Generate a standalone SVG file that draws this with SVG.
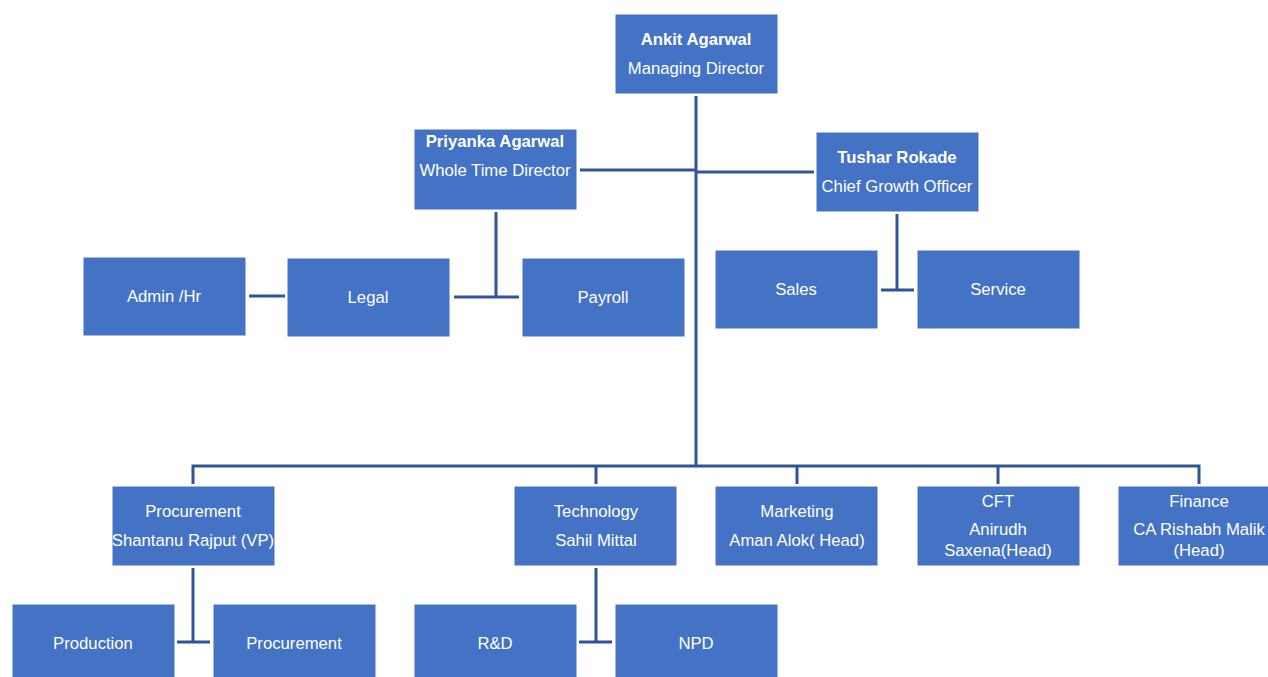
<svg xmlns="http://www.w3.org/2000/svg" width="1268" height="677" viewBox="0 0 1268 677">
<style>
.box{fill:#4472C4;stroke:#FFFFFF;stroke-width:1}
.t{font-family:"Liberation Sans",Arial,sans-serif;font-size:16.7px;fill:#FFFFFF;text-anchor:middle}
.b{font-weight:bold}
.c{stroke:#2F5597;stroke-width:3;fill:none}
</style>
<rect width="1268" height="677" fill="#FFFFFF"/>
<g id="connectors">
<line class="c" x1="696" y1="96" x2="696" y2="467"/>
<line class="c" x1="580" y1="170" x2="696" y2="170"/>
<line class="c" x1="696" y1="172" x2="814" y2="172"/>
<line class="c" x1="496" y1="212" x2="496" y2="297"/>
<line class="c" x1="249" y1="296" x2="285" y2="296"/>
<line class="c" x1="454" y1="297" x2="519" y2="297"/>
<line class="c" x1="897" y1="214" x2="897" y2="290"/>
<line class="c" x1="881" y1="290" x2="914" y2="290"/>
<polyline class="c" points="193,484 193,466 1199,466 1199,484"/>
<line class="c" x1="596" y1="466" x2="596" y2="484"/>
<line class="c" x1="797" y1="466" x2="797" y2="484"/>
<line class="c" x1="998" y1="466" x2="998" y2="484"/>
<line class="c" x1="193" y1="568" x2="193" y2="642"/>
<line class="c" x1="177" y1="642" x2="210" y2="642"/>
<line class="c" x1="596" y1="568" x2="596" y2="642"/>
<line class="c" x1="579" y1="642" x2="612" y2="642"/>
</g>
<g id="ankit"><rect class="box" x="615" y="14" width="163" height="80"/><text class="t b" x="696" y="45">Ankit Agarwal</text><text class="t" x="696" y="74">Managing Director</text></g>
<g id="priyanka"><rect class="box" x="414" y="129" width="163" height="81"/><text class="t b" x="495" y="147">Priyanka Agarwal</text><text class="t" x="495" y="176">Whole Time Director</text></g>
<g id="tushar"><rect class="box" x="816" y="132" width="163" height="80"/><text class="t b" x="897" y="163">Tushar Rokade</text><text class="t" x="897" y="192">Chief Growth Officer</text></g>
<g id="admin"><rect class="box" x="83" y="257" width="163" height="79"/><text class="t" x="164" y="302">Admin /Hr</text></g>
<g id="legal"><rect class="box" x="287" y="258" width="163" height="79"/><text class="t" x="368" y="303">Legal</text></g>
<g id="payroll"><rect class="box" x="522" y="258" width="163" height="79"/><text class="t" x="603" y="303">Payroll</text></g>
<g id="sales"><rect class="box" x="715" y="250" width="163" height="79"/><text class="t" x="796" y="295">Sales</text></g>
<g id="service"><rect class="box" x="917" y="250" width="163" height="79"/><text class="t" x="998" y="295">Service</text></g>
<g id="procurement-vp"><rect class="box" x="112" y="486" width="163" height="80"/><text class="t" x="193" y="517">Procurement</text><text class="t" x="193" y="546">Shantanu Rajput (VP)</text></g>
<g id="technology"><rect class="box" x="514" y="486" width="163" height="80"/><text class="t" x="596" y="517">Technology</text><text class="t" x="596" y="546">Sahil Mittal</text></g>
<g id="marketing"><rect class="box" x="715" y="486" width="163" height="80"/><text class="t" x="797" y="517">Marketing</text><text class="t" x="797" y="546">Aman Alok( Head)</text></g>
<g id="cft"><rect class="box" x="917" y="486" width="163" height="80"/><text class="t" x="998" y="507">CFT</text><text class="t" x="998" y="535">Anirudh</text><text class="t" x="998" y="556">Saxena(Head)</text></g>
<g id="finance"><rect class="box" x="1118" y="486" width="163" height="80"/><text class="t" x="1199" y="507">Finance</text><text class="t" x="1199" y="535">CA Rishabh Malik</text><text class="t" x="1199" y="556">(Head)</text></g>
<g id="production"><rect class="box" x="12" y="604" width="163" height="80"/><text class="t" x="93" y="649">Production</text></g>
<g id="procurement"><rect class="box" x="213" y="604" width="163" height="80"/><text class="t" x="294" y="649">Procurement</text></g>
<g id="rnd"><rect class="box" x="414" y="604" width="163" height="80"/><text class="t" x="495" y="649">R&amp;D</text></g>
<g id="npd"><rect class="box" x="615" y="604" width="163" height="80"/><text class="t" x="696" y="649">NPD</text></g>
</svg>
